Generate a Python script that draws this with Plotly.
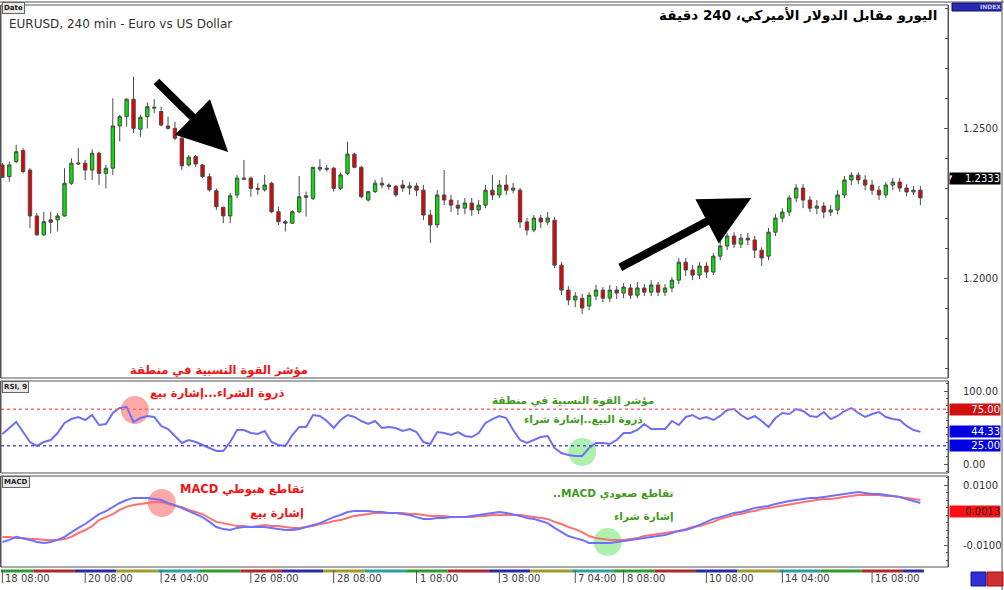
import plotly.graph_objects as go

# ---------------- data ----------------
opens = [1.2377, 1.2338, 1.2388, 1.2425, 1.2360, 1.2207, 1.2144, 1.2194, 1.2194, 1.2207,
         1.2316, 1.2380, 1.2383, 1.2360, 1.2416, 1.2349, 1.2366, 1.2507, 1.2538, 1.2596,
         1.2496, 1.2538, 1.2566, 1.2555, 1.2507, 1.2499, 1.2466, 1.2377, 1.2405, 1.2377,
         1.2338, 1.2291, 1.2236, 1.2207, 1.2277, 1.2329, 1.2333, 1.2299, 1.2294, 1.2316,
         1.2221, 1.2188, 1.2183, 1.2221, 1.2269, 1.2266, 1.2363, 1.2366, 1.2366, 1.2299,
         1.2349, 1.2413, 1.2369, 1.2260, 1.2288, 1.2316, 1.2310, 1.2305,
         1.2310, 1.2300, 1.2307, 1.2293, 1.2210, 1.2177, 1.2277, 1.2260, 1.2243, 1.2233,
         1.2250, 1.2227, 1.2243, 1.2293, 1.2277, 1.2310, 1.2293, 1.2293, 1.2187, 1.2160,
         1.2200, 1.2187, 1.2193, 1.2043, 1.1960, 1.1927, 1.1933, 1.1907, 1.1940, 1.1960,
         1.1933, 1.1960, 1.1950, 1.1967, 1.1943, 1.1967, 1.1953, 1.1977, 1.1953, 1.1967,
         1.1993, 1.2053, 1.2027, 1.2010, 1.2040, 1.2020, 1.2073, 1.2107, 1.2140, 1.2113,
         1.2133, 1.2127, 1.2093, 1.2073, 1.2153, 1.2200, 1.2220, 1.2267, 1.2300, 1.2260,
         1.2233, 1.2240, 1.2220, 1.2227, 1.2277, 1.2327, 1.2343, 1.2327, 1.2310, 1.2293,
         1.2277, 1.2310, 1.2320, 1.2300, 1.2287, 1.2293]
highs = [1.2383, 1.2388, 1.2444, 1.2433, 1.2366, 1.2216, 1.2221, 1.2221, 1.2216, 1.2366,
         1.2399, 1.2433, 1.2394, 1.2429, 1.2421, 1.2377, 1.2599, 1.2544, 1.2599, 1.2671,
         1.2544, 1.2585, 1.2596, 1.2571, 1.2538, 1.2521, 1.2471, 1.2410, 1.2410, 1.2380,
         1.2349, 1.2299, 1.2238, 1.2285, 1.2344, 1.2394, 1.2338, 1.2316, 1.2344, 1.2321,
         1.2238, 1.2194, 1.2227, 1.2340, 1.2288, 1.2371, 1.2396, 1.2377, 1.2371, 1.2352,
         1.2455, 1.2418, 1.2374, 1.2291, 1.2327, 1.2336, 1.2316, 1.2310,
         1.2327, 1.2320, 1.2317, 1.2310, 1.2227, 1.2293, 1.2360, 1.2277, 1.2260, 1.2267,
         1.2267, 1.2260, 1.2310, 1.2343, 1.2327, 1.2343, 1.2317, 1.2300, 1.2200, 1.2210,
         1.2210, 1.2220, 1.2203, 1.2053, 1.1973, 1.1953, 1.1947, 1.1953, 1.1977, 1.1970,
         1.1977, 1.1973, 1.1983, 1.1980, 1.1987, 1.1980, 1.1993, 1.1987, 1.1980, 1.2003,
         1.2067, 1.2067, 1.2043, 1.2053, 1.2053, 1.2083, 1.2127, 1.2150, 1.2153, 1.2147,
         1.2150, 1.2140, 1.2103, 1.2167, 1.2213, 1.2233, 1.2277, 1.2313, 1.2313, 1.2273,
         1.2260, 1.2253, 1.2243, 1.2293, 1.2340, 1.2353, 1.2353, 1.2343, 1.2327, 1.2307,
         1.2320, 1.2333, 1.2333, 1.2313, 1.2307, 1.2307]
lows = [1.2333, 1.2321, 1.2383, 1.2349, 1.2166, 1.2140, 1.2140, 1.2149, 1.2155, 1.2205,
        1.2310, 1.2377, 1.2327, 1.2327, 1.2310, 1.2299, 1.2344, 1.2455, 1.2505, 1.2483,
        1.2471, 1.2499, 1.2549, 1.2505, 1.2494, 1.2460, 1.2360, 1.2371, 1.2371, 1.2333,
        1.2288, 1.2227, 1.2183, 1.2183, 1.2266, 1.2327, 1.2271, 1.2277, 1.2288, 1.2216,
        1.2177, 1.2155, 1.2180, 1.2216, 1.2205, 1.2260, 1.2355, 1.2355, 1.2288, 1.2294,
        1.2344, 1.2366, 1.2266, 1.2255, 1.2283, 1.2299, 1.2294, 1.2271,
        1.2287, 1.2277, 1.2273, 1.2193, 1.2117, 1.2167, 1.2243, 1.2220, 1.2210, 1.2213,
        1.2207, 1.2213, 1.2233, 1.2260, 1.2267, 1.2277, 1.2283, 1.2167, 1.2143, 1.2153,
        1.2167, 1.2177, 1.2033, 1.1943, 1.1910, 1.1903, 1.1880, 1.1893, 1.1927, 1.1920,
        1.1920, 1.1930, 1.1933, 1.1930, 1.1933, 1.1940, 1.1940, 1.1940, 1.1940, 1.1953,
        1.1980, 1.2007, 1.1993, 1.1997, 1.2000, 1.2010, 1.2060, 1.2093, 1.2100, 1.2100,
        1.2110, 1.2067, 1.2040, 1.2060, 1.2140, 1.2187, 1.2207, 1.2253, 1.2233, 1.2220,
        1.2213, 1.2200, 1.2207, 1.2213, 1.2267, 1.2310, 1.2313, 1.2293, 1.2277, 1.2260,
        1.2267, 1.2293, 1.2287, 1.2273, 1.2277, 1.2243]
closes = [1.2336, 1.2377, 1.2421, 1.2355, 1.2207, 1.2144, 1.2188, 1.2186, 1.2207, 1.2316,
          1.2383, 1.2383, 1.2360, 1.2416, 1.2349, 1.2366, 1.2507, 1.2538, 1.2596, 1.2499,
          1.2536, 1.2571, 1.2569, 1.2510, 1.2499, 1.2466, 1.2374, 1.2403, 1.2380, 1.2338,
          1.2294, 1.2238, 1.2207, 1.2274, 1.2333, 1.2333, 1.2299, 1.2296, 1.2310, 1.2221,
          1.2188, 1.2183, 1.2221, 1.2271, 1.2274, 1.2369, 1.2369, 1.2363, 1.2299, 1.2344,
          1.2413, 1.2369, 1.2271, 1.2288, 1.2316, 1.2310, 1.2305, 1.2277,
          1.2300, 1.2307, 1.2293, 1.2210, 1.2177, 1.2277, 1.2260, 1.2243, 1.2233, 1.2250,
          1.2227, 1.2243, 1.2293, 1.2277, 1.2310, 1.2293, 1.2300, 1.2187, 1.2160, 1.2200,
          1.2187, 1.2200, 1.2043, 1.1960, 1.1927, 1.1940, 1.1900, 1.1943, 1.1960, 1.1933,
          1.1960, 1.1950, 1.1970, 1.1943, 1.1967, 1.1953, 1.1977, 1.1953, 1.1967, 1.1993,
          1.2053, 1.2027, 1.2010, 1.2040, 1.2020, 1.2073, 1.2107, 1.2140, 1.2113, 1.2133,
          1.2127, 1.2093, 1.2067, 1.2153, 1.2200, 1.2220, 1.2267, 1.2300, 1.2260, 1.2233,
          1.2240, 1.2220, 1.2227, 1.2277, 1.2327, 1.2343, 1.2327, 1.2310, 1.2293, 1.2277,
          1.2310, 1.2320, 1.2300, 1.2287, 1.2293, 1.2267]

rsi = [41.1, 49.3, 57.5, 43.8, 30.1, 24.7, 30.1, 32.9, 42.5, 56.2,
       61.6, 64.4, 60.3, 67.1, 53.4, 54.8, 69.9, 76.7, 78.1, 57.5,
       63.0, 65.8, 64.4, 52.1, 47.9, 38.4, 28.8, 32.9, 30.1, 26.0,
       21.9, 17.8, 17.8, 30.1, 46.6, 46.6, 42.5, 41.1, 45.2, 30.1,
       26.0, 24.7, 39.7, 50.7, 50.7, 67.1, 65.8, 58.9, 49.3, 60.3,
       67.1, 64.4, 58.9, 54.8, 58.9, 49.3, 50.7, 49.3, 45.2, 47.9,
       43.8, 30.1, 27.4, 43.8, 42.5, 39.7, 43.8, 38.4, 37.0, 42.5,
       56.2, 61.6, 65.8, 63.0, 46.6, 32.9, 28.8, 32.9, 37.0, 38.4,
       21.9, 15.1, 12.3, 11.0, 11.0, 21.9, 28.8, 28.8, 27.4, 32.9,
       42.5, 42.5, 46.6, 54.8, 47.9, 47.9, 47.9, 58.9, 53.4, 64.4,
       67.1, 61.6, 64.4, 60.3, 65.8, 74.0, 75.3, 67.1, 61.6, 65.8,
       58.9, 50.7, 63.0, 69.9, 68.5, 75.3, 72.6, 65.8, 64.4, 71.2,
       61.6, 65.8, 72.6, 76.7, 69.9, 64.4, 68.5, 71.2, 64.4, 61.6,
       60.3, 52.1, 46.6, 44.3]

macd_main = [-0.0090, -0.0083, -0.0073, -0.0077, -0.0083, -0.0090, -0.0093, -0.0090, -0.0083, -0.0073,
             -0.0057, -0.0043, -0.0030, -0.0013, 0.0003, 0.0013, 0.0027, 0.0040, 0.0050, 0.0057,
             0.0057, 0.0057, 0.0053, 0.0050, 0.0040, 0.0033, 0.0023, 0.0013, 0.0003, -0.0007,
             -0.0023, -0.0040, -0.0047, -0.0050, -0.0043, -0.0040, -0.0040, -0.0040, -0.0040, -0.0043,
             -0.0047, -0.0050, -0.0050, -0.0047, -0.0040, -0.0033, -0.0027, -0.0017, -0.0007, 0.0000,
             0.0010, 0.0013, 0.0013, 0.0013, 0.0010, 0.0010, 0.0007, 0.0007, 0.0003, 0.0000,
             -0.0007, -0.0013, -0.0013, -0.0010, -0.0010, -0.0007, -0.0007, -0.0007, -0.0003, 0.0000,
             0.0003, 0.0007, 0.0010, 0.0007, 0.0003, -0.0003, -0.0010, -0.0013, -0.0020, -0.0027,
             -0.0043, -0.0057, -0.0070, -0.0077, -0.0083, -0.0093, -0.0093, -0.0093, -0.0093, -0.0090,
             -0.0087, -0.0083, -0.0080, -0.0077, -0.0073, -0.0070, -0.0067, -0.0060, -0.0053, -0.0050,
             -0.0043, -0.0033, -0.0023, -0.0013, -0.0007, 0.0000, 0.0007, 0.0010, 0.0017, 0.0023,
             0.0027, 0.0030, 0.0037, 0.0043, 0.0047, 0.0050, 0.0053, 0.0057, 0.0057, 0.0060,
             0.0063, 0.0067, 0.0070, 0.0073, 0.0077, 0.0073, 0.0070, 0.0070, 0.0067, 0.0063,
             0.0060, 0.0053, 0.0047, 0.0040]
macd_signal = [-0.0073, -0.0073, -0.0077, -0.0077, -0.0080, -0.0080, -0.0083, -0.0083, -0.0083, -0.0080,
               -0.0073, -0.0060, -0.0050, -0.0037, -0.0017, -0.0007, 0.0003, 0.0017, 0.0027, 0.0033,
               0.0037, 0.0040, 0.0043, 0.0043, 0.0037, 0.0030, 0.0027, 0.0017, 0.0010, 0.0003,
               -0.0010, -0.0023, -0.0027, -0.0033, -0.0037, -0.0037, -0.0040, -0.0037, -0.0033, -0.0037,
               -0.0037, -0.0040, -0.0043, -0.0043, -0.0040, -0.0037, -0.0030, -0.0027, -0.0020, -0.0017,
               -0.0010, -0.0003, 0.0000, 0.0003, 0.0007, 0.0007, 0.0007, 0.0007, 0.0007, 0.0003,
               0.0003, 0.0000, -0.0003, -0.0003, -0.0003, -0.0007, -0.0007, -0.0007, -0.0007, -0.0003,
               -0.0003, 0.0000, 0.0000, 0.0000, 0.0000, 0.0000, -0.0003, -0.0007, -0.0010, -0.0013,
               -0.0023, -0.0030, -0.0040, -0.0047, -0.0057, -0.0070, -0.0077, -0.0080, -0.0083, -0.0083,
               -0.0083, -0.0080, -0.0077, -0.0070, -0.0067, -0.0063, -0.0060, -0.0057, -0.0053, -0.0047,
               -0.0040, -0.0037, -0.0030, -0.0023, -0.0013, -0.0007, 0.0000, 0.0003, 0.0010, 0.0013,
               0.0020, 0.0023, 0.0027, 0.0033, 0.0037, 0.0040, 0.0043, 0.0047, 0.0050, 0.0053,
               0.0053, 0.0057, 0.0060, 0.0063, 0.0067, 0.0067, 0.0067, 0.0067, 0.0063, 0.0063,
               0.0060, 0.0057, 0.0053, 0.0050]

tick_idx = [0, 12, 23, 36, 48, 60, 72, 83, 90, 102, 113, 126]
tick_text = ["18 08:00", "20 08:00", "24 04:00", "26 08:00", "28 08:00", "1 08:00",
             "3 08:00", "7 04:00", "8 08:00", "10 08:00", "14 04:00", "16 08:00"]
day_colors = ["#2f9a2f", "#b02828", "#2a2aa0", "#a09a28", "#2aa0a0"]

last_price = 1.2333
rsi_last = 44.33
macd_last = 0.0013

# ---------------- figure geometry ----------------
W, H = 1004, 590
ML, MR, MT, MB = 1, 56, 5, 23
PW, PH = W - ML - MR, H - MT - MB


def pxx(x):
    return (x - ML) / PW


def pxy(y):
    return (H - MB - y) / PH


x_idx = list(range(len(closes)))

fig = go.Figure()
fig.add_trace(go.Candlestick(
    x=x_idx, open=opens, high=highs, low=lows, close=closes,
    increasing=dict(fillcolor="#00e600", line=dict(color="#4a4a4a", width=1)),
    decreasing=dict(fillcolor="#e60000", line=dict(color="#4a4a4a", width=1)),
    whiskerwidth=0, xaxis="x", yaxis="y", showlegend=False, hoverinfo="skip"))
fig.add_trace(go.Scatter(x=x_idx, y=rsi, mode="lines", line=dict(color="#6f6ff5", width=2),
                         xaxis="x", yaxis="y2", showlegend=False, hoverinfo="skip"))
fig.add_trace(go.Scatter(x=x_idx, y=macd_signal, mode="lines", line=dict(color="#ff7070", width=2),
                         xaxis="x", yaxis="y3", showlegend=False, hoverinfo="skip"))
fig.add_trace(go.Scatter(x=x_idx, y=macd_main, mode="lines", line=dict(color="#7070ff", width=2),
                         xaxis="x", yaxis="y3", showlegend=False, hoverinfo="skip"))

# RSI levels
for lvl, col in [(75, "#f07070"), (25, "#5050e0")]:
    fig.add_shape(type="line", xref="paper", yref="y2", x0=0, x1=1, y0=lvl, y1=lvl,
                  line=dict(color=col, width=1.3, dash="dot"))

# domains
d_main = [pxy(378), 1]
d_rsi = [pxy(473), pxy(381)]
d_macd = [0, pxy(476)]

axis_font = dict(family="DejaVu Sans", size=10, color="#333")
common_y = dict(side="right", showgrid=False, zeroline=False, showline=True, mirror=True,
                linecolor="#555", linewidth=1, ticks="inside", ticklen=4, tickcolor="#555",
                tickfont=axis_font, ticklabelstandoff=12, fixedrange=True, automargin=False)

fig.update_layout(
    width=W, height=H, margin=dict(l=ML, r=MR, t=MT, b=MB, autoexpand=False),
    paper_bgcolor="white", plot_bgcolor="white",
    xaxis=dict(range=[-0.2, 137.0], domain=[0, 1], anchor="y3", showticklabels=False,
               showgrid=False, zeroline=False, showline=False, ticks="", automargin=False,
               rangeslider=dict(visible=False), fixedrange=True),
    yaxis=dict(domain=d_main, range=[1.1667, 1.2910], tickvals=[1.20, 1.25],
               ticktext=["1.2000", "1.2500"],
               minor=dict(dtick=0.01, ticks="inside", ticklen=3, tickcolor="#555"),
               **common_y),
    yaxis2=dict(domain=d_rsi, range=[-12.3, 113.7], tickvals=[0, 100],
                ticktext=["0.00", "100.00"],
                minor=dict(dtick=10, ticks="inside", ticklen=2, tickcolor="#555"),
                **common_y),
    yaxis3=dict(domain=d_macd, range=[-0.01733, 0.0130], tickvals=[-0.01, 0.01],
                ticktext=["-0.0100", "0.0100"],
                minor=dict(dtick=0.0025, ticks="inside", ticklen=2, tickcolor="#555"),
                **common_y),
)

# horizontal panel borders
for ref in ["y domain", "y2 domain", "y3 domain"]:
    fig.add_shape(type="rect", xref="paper", yref=ref, x0=0, x1=1, y0=0, y1=1,
                  line=dict(color="#555", width=1), fillcolor="rgba(0,0,0,0)")

# outer frame
fig.add_shape(type="line", xref="paper", yref="paper", x0=pxx(1002), x1=pxx(1002),
              y0=pxy(0), y1=pxy(590), line=dict(color="#555", width=1))
fig.add_shape(type="line", xref="paper", yref="paper", x0=pxx(0), x1=pxx(1004),
              y0=pxy(2), y1=pxy(2), line=dict(color="#555", width=1))

# day colour strip below the chart
edges = [-0.5] + [4.5 + 6 * k for k in range(23)]
for k in range(len(edges) - 1):
    x1 = min(edges[k + 1], len(closes) - 0.5)
    if edges[k] >= x1:
        break
    fig.add_shape(type="rect", xref="x", yref="paper", x0=edges[k], x1=x1,
                  y0=pxy(572.5), y1=pxy(569.5), line=dict(width=0),
                  fillcolor=day_colors[k % len(day_colors)])

# date ticks and labels
for ti, tt in zip(tick_idx, tick_text):
    fig.add_shape(type="line", xref="x", yref="paper", x0=ti, x1=ti, y0=pxy(570), y1=pxy(583),
                  line=dict(color="#555", width=1))
    fig.add_annotation(x=ti, y=pxy(578), xref="x", yref="paper", text=tt, showarrow=False,
                       xanchor="left", yanchor="middle", xshift=1,
                       font=dict(family="DejaVu Sans", size=10, color="#444"))

# right-axis value boxes
def value_box(yref, val, txt, bg, fg):
    fig.add_annotation(x=1, y=val, xref="paper", yref=yref, text=txt, showarrow=False,
                       xanchor="left", yanchor="middle", xshift=1, bgcolor=bg,
                       font=dict(family="DejaVu Sans", size=10, color=fg), borderpad=0,
                       width=50, align="right")

value_box("y", last_price, "▼    1.2333", "#000000", "#ffffff")
value_box("y2", 75, "75.00", "#d01010", "#ffffff")
value_box("y2", rsi_last, "44.33", "#0000e0", "#ffffff")
value_box("y2", 25, "25.00", "#0000e0", "#ffffff")
value_box("y3", macd_last, "0.0013", "#ff1010", "#222222")

# small header boxes
def tag(x, y, txt, bg="#e8e8e8", size=8, color="#222"):
    fig.add_annotation(x=pxx(x), y=pxy(y), xref="paper", yref="paper", text=txt,
                       showarrow=False, xanchor="left", yanchor="middle", bgcolor=bg,
                       bordercolor="#666", borderwidth=1, borderpad=1,
                       font=dict(family="DejaVu Sans", size=size, color=color))

tag(2, 8, "<b>Date</b>", size=7)
tag(2, 387, "<b>RSI, 9</b>", size=7)
tag(2, 482, "<b>MACD</b>", size=7)
fig.add_shape(type="rect", xref="paper", yref="paper", x0=pxx(952), x1=pxx(1001),
              y0=pxy(11), y1=pxy(3), fillcolor="#2828b0", line=dict(color="#10106a", width=1))
fig.add_annotation(x=pxx(990), y=pxy(7), xref="paper", yref="paper", text="<b>INDEX</b>",
                   showarrow=False, xanchor="center", yanchor="middle",
                   font=dict(family="DejaVu Sans", size=6, color="#c8c8ff"))

# titles
RLE, PDF = "\u202b", "\u202c"
fig.add_annotation(x=pxx(7), y=pxy(24), xref="paper", yref="paper",
                   text="EURUSD, 240 min - Euro vs US Dollar", showarrow=False,
                   xanchor="left", yanchor="middle",
                   font=dict(family="DejaVu Sans", size=12, color="#333"))
fig.add_annotation(x=pxx(939), y=pxy(15), xref="paper", yref="paper",
                   text=RLE + "اليورو مقابل الدولار الأميركي، 240 دقيقة" + PDF, showarrow=False,
                   xanchor="right", yanchor="middle",
                   font=dict(family="DejaVu Sans", size=13.5, color="#000", weight="bold"))

# annotation texts
RED, GREEN = "#f01414", "#3f9a1e"

def note(x, y, txt, col, anchor="center", size=13):
    fig.add_annotation(x=pxx(x), y=pxy(y), xref="paper", yref="paper",
                       text=RLE + txt + PDF, showarrow=False,
                       xanchor=anchor, yanchor="middle",
                       font=dict(family="DejaVu Sans", size=size, color=col, weight="bold"))

note(310, 370, "مؤشر القوة النسبية في منطقة", RED, "right", 11.5)
note(286, 393, "ذروة الشراء...إشارة بيع", RED, "right", 11.5)
note(656, 400, "مؤشر القوة النسبية في منطقة", GREEN, "right", 10.5)
note(645, 419, "ذروة البيع..إشارة شراء", GREEN, "right", 10.5)
note(306, 490, "تقاطع هبوطي MACD", RED, "right", 11.5)
note(306, 513, "إشارة بيع", RED, "right", 11.5)
note(676, 493, "تقاطع صعودي MACD..", GREEN, "right", 10.5)
note(676, 516, "إشارة شراء", GREEN, "right", 10.5)

# highlight circles
def circle(yref, xv, yv, col):
    fig.add_shape(type="circle", xref="x", yref=yref, xsizemode="pixel", ysizemode="pixel",
                  xanchor=xv, yanchor=yv, x0=-14, x1=14, y0=-14, y1=14,
                  fillcolor=col, line=dict(width=0), layer="below")

circle("y2", 19.2, 74, "rgba(255,110,110,0.6)")
circle("y2", 84, 16.4, "rgba(120,230,120,0.6)")
circle("y3", 23.1, 0.0040, "rgba(255,110,110,0.6)")
circle("y3", 87.7, -0.0090, "rgba(120,230,120,0.6)")

# trend arrows
fig.add_annotation(x=32.7, y=1.2420, ax=22.1, ay=1.2660, xref="x", yref="y", axref="x", ayref="y",
                   showarrow=True, arrowhead=2, arrowsize=1.25, arrowwidth=8, arrowcolor="#000",
                   text="")
fig.add_annotation(x=108.5, y=1.2267, ax=89.3, ay=1.2033, xref="x", yref="y", axref="x", ayref="y",
                   showarrow=True, arrowhead=2, arrowsize=1.25, arrowwidth=8, arrowcolor="#000",
                   text="")

# corner icons
fig.add_shape(type="rect", xref="paper", yref="paper", x0=pxx(971), x1=pxx(986),
              y0=pxy(586), y1=pxy(572), fillcolor="#3030d0", line=dict(color="#1010a0", width=1))
fig.add_shape(type="rect", xref="paper", yref="paper", x0=pxx(987), x1=pxx(1003),
              y0=pxy(586), y1=pxy(572), fillcolor="#d03030", line=dict(color="#a01010", width=1))

fig.write_html("out.html", config={"displayModeBar": False},
               post_script="document.body.style.margin='0px';")
